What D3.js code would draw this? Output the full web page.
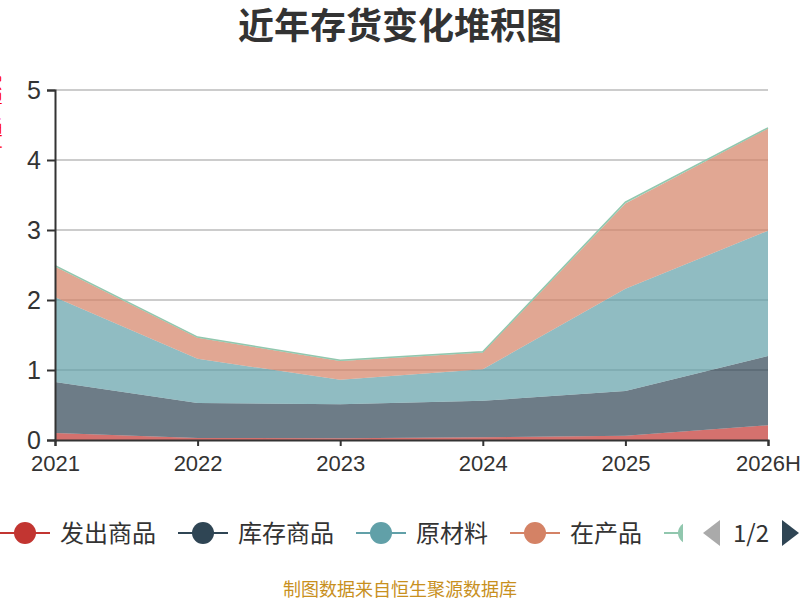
<!DOCTYPE html>
<html>
<head>
<meta charset="utf-8">
<script src="https://cdn.jsdelivr.net/npm/d3@7"></script>
<style>
  body { margin: 0; background: #fff; }
  svg { display: block; font-family: "Noto Sans CJK SC", "Microsoft YaHei", sans-serif; }
</style>
</head>
<body>
<div id="chart"></div>
<script>
const years = ['2021', '2022', '2023', '2024', '2025', '2026H'];
const seriesNames = ['发出商品', '库存商品', '原材料', '在产品', '周转材料'];
const colors = ['#c23531', '#2f4554', '#61a0a8', '#d48265', '#91c7ae'];

// 各项存货（亿元）
const faChu = [0.10, 0.03, 0.025, 0.04, 0.06, 0.21];
const kuCun = [0.73, 0.50, 0.485, 0.52, 0.64, 0.99];
const yuanCai = [1.21, 0.63, 0.35, 0.45, 1.46, 1.79];
const zaiChan = [0.44, 0.30, 0.27, 0.24, 1.22, 1.46];
const zhouZhuan = [0.01, 0.01, 0.01, 0.01, 0.02, 0.01];
const yTicks = [0, 1, 2, 3, 4, 5];

const seriesValues = [faChu, kuCun, yuanCai, zaiChan, zhouZhuan];

const width = 800, height = 600;
const margin = { top: 90, right: 32, bottom: 160, left: 55 };

const svg = d3.select('#chart').append('svg')
    .attr('width', width)
    .attr('height', height);

const table = years.map((y, i) => {
    const row = { year: y };
    seriesNames.forEach((n, k) => { row[n] = seriesValues[k][i]; });
    return row;
});

const stack = d3.stack().keys(seriesNames);
const layers = stack(table);

const x = d3.scalePoint()
    .domain(years)
    .range([margin.left, width - margin.right]);

const y = d3.scaleLinear()
    .domain([0, 5])
    .range([height - margin.bottom, margin.top]);

// 网格线
svg.append('g')
    .selectAll('line')
    .data(yTicks.filter(t => t > 0))
    .join('line')
    .attr('x1', margin.left)
    .attr('x2', width - margin.right)
    .attr('y1', d => y(d))
    .attr('y2', d => y(d))
    .attr('stroke', '#ccc')
    .attr('stroke-width', 2);

const area = d3.area()
    .x(d => x(d.data.year))
    .y0(d => y(d[0]))
    .y1(d => y(d[1]));

const line = d3.line()
    .x(d => x(d.data.year))
    .y(d => y(d[1]));

const layerG = svg.append('g');
layerG.selectAll('path.area')
    .data(layers)
    .join('path')
    .attr('class', 'area')
    .attr('d', area)
    .attr('fill', (d, i) => colors[i])
    .attr('fill-opacity', 0.7);

layerG.selectAll('path.top')
    .data(layers.slice(4))
    .join('path')
    .attr('class', 'top')
    .attr('d', line)
    .attr('fill', 'none')
    .attr('stroke', colors[4])
    .attr('stroke-width', 1.5);

// 坐标轴
const xAxis = svg.append('g')
    .attr('transform', `translate(0,${y(0)})`)
    .call(d3.axisBottom(x).tickSizeOuter(0).tickSize(6).tickPadding(5));
xAxis.select('.domain').attr('stroke', '#333').attr('stroke-width', 2);
xAxis.selectAll('.tick line').attr('stroke', '#333').attr('stroke-width', 2);
xAxis.selectAll('.tick text')
    .attr('fill', '#333')
    .style('font-size', '22px')
    .attr('dy', '0.92em');

const yAxis = svg.append('g')
    .attr('transform', `translate(${margin.left},0)`)
    .call(d3.axisLeft(y).tickValues(yTicks).tickFormat(d3.format('d')).tickSizeOuter(0).tickSize(8).tickPadding(6));
yAxis.select('.domain').attr('stroke', '#333').attr('stroke-width', 2);
yAxis.selectAll('.tick line').attr('stroke', '#333').attr('stroke-width', 2);
yAxis.selectAll('.tick text')
    .attr('fill', '#333')
    .style('font-size', '25px');

// y轴名称（大部分被裁切）
svg.append('text')
    .attr('transform', 'translate(-6,115) rotate(-90)')
    .attr('text-anchor', 'middle')
    .attr('dy', '0.35em')
    .attr('fill', '#ff0000')
    .style('font-size', '16px')
    .text('单位：亿元');

// 标题
svg.append('text')
    .attr('x', width / 2)
    .attr('y', 39)
    .attr('text-anchor', 'middle')
    .attr('fill', '#333')
    .style('font-size', '36px')
    .style('font-weight', 'bold')
    .text('近年存货变化堆积图');

// 图例（第1页，最后一项被翻页器遮挡）
svg.append('clipPath').attr('id', 'legend-clip')
    .append('rect').attr('x', -10).attr('y', 500).attr('width', 693).attr('height', 60);

const legend = svg.append('g').attr('clip-path', 'url(#legend-clip)');
let lx = 0;
const ly = 533;
seriesNames.forEach((name, i) => {
    const g = legend.append('g').attr('transform', `translate(${lx},${ly})`);
    g.append('line')
        .attr('x1', 0).attr('x2', 50)
        .attr('stroke', colors[i]).attr('stroke-width', 2);
    g.append('circle')
        .attr('cx', 25).attr('r', 11)
        .attr('fill', colors[i]);
    if (lx + 60 > 683) return;
    const t = g.append('text')
        .attr('x', 60)
        .attr('dy', '0.36em')
        .attr('fill', '#333')
        .style('font-size', '24px')
        .text(name);
    lx += 60 + t.node().getComputedTextLength() + 22;
});

// 翻页器
svg.append('path')
    .attr('d', 'M720,520 L703,533 L720,546 Z')
    .attr('fill', '#aaa');
svg.append('text')
    .attr('x', 751)
    .attr('y', ly)
    .attr('dy', '0.36em')
    .attr('text-anchor', 'middle')
    .attr('fill', '#333')
    .style('font-size', '24px')
    .text('1/2');
svg.append('path')
    .attr('d', 'M782,520 L799,533 L782,546 Z')
    .attr('fill', '#2f4554');

// 数据来源
svg.append('text')
    .attr('x', width / 2)
    .attr('y', 590)
    .attr('dy', '0.35em')
    .attr('text-anchor', 'middle')
    .attr('fill', '#c8901e')
    .style('font-size', '18px')
    .text('制图数据来自恒生聚源数据库');
</script>
</body>
</html>
